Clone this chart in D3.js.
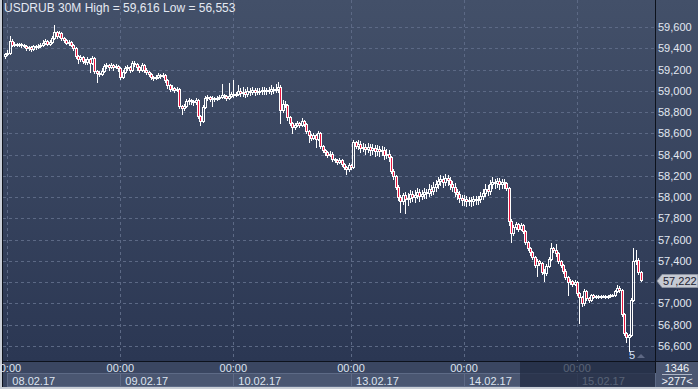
<!DOCTYPE html>
<html lang="en">
<head>
<meta charset="UTF-8">
<title>USDRUB 30M</title>
<style>
  html, body { margin: 0; padding: 0; background: #c9ced6; }
  svg { display: block; font-family: "Liberation Sans", Arial, sans-serif; }
</style>
<script src="https://cdn.jsdelivr.net/npm/d3@7"></script>
</head>
<body>
<script>
// ---- data (30 min bars, bar index 0..270) ----
var open = [59.33,59.35,59.36,59.47,59.43,59.44,59.43,59.44,59.43,59.42,
  59.40,59.41,59.39,59.42,59.41,59.42,59.43,59.45,59.47,59.44,
  59.46,59.50,59.55,59.52,59.54,59.50,59.48,59.45,59.46,59.43,
  59.40,59.33,59.30,59.32,59.28,59.27,59.30,59.26,59.31,59.19,
  59.17,59.16,59.19,59.23,59.24,59.22,59.24,59.22,59.23,59.21,
  59.13,59.18,59.21,59.22,59.20,59.26,59.25,59.22,59.20,59.24,
  59.20,59.18,59.16,59.13,59.12,59.13,59.15,59.14,59.15,59.10,
  59.05,59.02,59.03,59.01,59.02,58.86,58.84,58.86,58.90,58.91,
  58.90,58.89,58.91,58.76,58.72,58.85,58.93,58.94,58.92,58.93,
  58.92,58.93,58.94,58.96,58.95,58.93,58.95,58.97,58.96,58.97,
  59.00,58.98,58.99,58.97,59.00,58.99,59.01,58.99,59.00,59.00,
  59.01,59.00,59.01,59.00,59.02,59.01,59.02,59.04,58.82,58.88,
  58.87,58.75,58.70,58.66,58.68,58.70,58.68,58.72,58.69,58.62,
  58.58,58.56,58.58,58.55,58.60,58.48,58.44,58.42,58.40,58.41,
  58.36,58.35,58.33,58.35,58.31,58.28,58.26,58.30,58.28,58.52,
  58.48,58.50,58.46,58.47,58.45,58.47,58.44,58.46,58.43,58.45,
  58.43,58.44,58.40,58.41,58.38,58.25,58.20,58.10,58.00,57.96,
  58.02,57.98,57.99,58.03,58.00,58.02,58.05,58.01,58.03,58.05,
  58.04,58.08,58.06,58.10,58.12,58.15,58.17,58.14,58.18,58.16,
  58.12,58.10,58.05,58.03,57.99,57.97,57.98,57.96,57.97,57.96,
  57.98,57.97,57.98,58.01,58.04,58.08,58.06,58.12,58.14,58.13,
  58.15,58.12,58.14,58.13,58.09,57.78,57.66,57.72,57.75,57.70,
  57.74,57.68,57.58,57.52,57.48,57.44,57.36,57.40,57.38,57.30,
  57.29,57.35,57.42,57.52,57.50,57.47,57.40,57.36,57.31,57.25,
  57.20,57.21,57.18,57.20,57.10,57.06,57.00,57.12,57.05,57.03,
  57.08,57.06,57.07,57.06,57.07,57.07,57.06,57.07,57.08,57.08,
  57.12,57.15,57.13,56.90,56.72,56.68,56.70,57.03,57.40,57.41,
  57.30];
var close = [59.35,59.36,59.47,59.43,59.44,59.43,59.44,59.43,59.42,59.40,
  59.41,59.39,59.42,59.41,59.42,59.43,59.45,59.47,59.44,59.46,
  59.50,59.55,59.52,59.54,59.50,59.48,59.45,59.46,59.43,59.40,
  59.33,59.30,59.32,59.28,59.27,59.30,59.26,59.31,59.19,59.17,
  59.16,59.19,59.23,59.24,59.22,59.24,59.22,59.23,59.21,59.13,
  59.18,59.21,59.22,59.20,59.26,59.25,59.22,59.20,59.24,59.20,
  59.18,59.16,59.13,59.12,59.13,59.15,59.14,59.15,59.10,59.05,
  59.02,59.03,59.01,59.02,58.86,58.84,58.86,58.90,58.91,58.90,
  58.89,58.91,58.76,58.72,58.85,58.93,58.94,58.92,58.93,58.92,
  58.93,58.94,58.96,58.95,58.93,58.95,58.97,58.96,58.97,59.00,
  58.98,58.99,58.97,59.00,58.99,59.01,58.99,59.00,59.00,59.01,
  59.00,59.01,59.00,59.02,59.01,59.02,59.04,58.82,58.88,58.87,
  58.75,58.70,58.66,58.68,58.70,58.68,58.72,58.69,58.62,58.58,
  58.56,58.58,58.55,58.60,58.48,58.44,58.42,58.40,58.41,58.36,
  58.35,58.33,58.35,58.31,58.28,58.26,58.30,58.28,58.52,58.48,
  58.50,58.46,58.47,58.45,58.47,58.44,58.46,58.43,58.45,58.43,
  58.44,58.40,58.41,58.38,58.25,58.20,58.10,58.00,57.96,58.02,
  57.98,57.99,58.03,58.00,58.02,58.05,58.01,58.03,58.05,58.04,
  58.08,58.06,58.10,58.12,58.15,58.17,58.14,58.18,58.16,58.12,
  58.10,58.05,58.03,57.99,57.97,57.98,57.96,57.97,57.96,57.98,
  57.97,57.98,58.01,58.04,58.08,58.06,58.12,58.14,58.13,58.15,
  58.12,58.14,58.13,58.09,57.78,57.66,57.72,57.75,57.70,57.74,
  57.68,57.58,57.52,57.48,57.44,57.36,57.40,57.38,57.30,57.29,
  57.35,57.42,57.52,57.50,57.47,57.40,57.36,57.31,57.25,57.20,
  57.21,57.18,57.20,57.10,57.06,57.00,57.12,57.05,57.03,57.08,
  57.06,57.07,57.06,57.07,57.07,57.06,57.07,57.08,57.08,57.12,
  57.15,57.13,56.90,56.72,56.68,56.70,57.03,57.40,57.41,57.30,
  57.222];
var high = [59.36,59.38,59.52,59.49,59.46,59.45,59.45,59.45,59.44,59.43,
  59.42,59.42,59.43,59.43,59.44,59.45,59.48,59.49,59.48,59.48,
  59.52,59.616,59.56,59.56,59.55,59.51,59.49,59.48,59.47,59.44,
  59.41,59.34,59.34,59.33,59.30,59.32,59.31,59.33,59.32,59.20,
  59.19,59.21,59.25,59.26,59.25,59.26,59.25,59.25,59.24,59.22,
  59.20,59.23,59.24,59.23,59.28,59.28,59.26,59.23,59.26,59.25,
  59.21,59.19,59.17,59.14,59.15,59.17,59.16,59.17,59.16,59.11,
  59.06,59.05,59.04,59.04,59.03,58.87,58.88,58.92,58.93,58.92,
  58.91,58.93,58.92,58.77,58.87,58.95,58.96,58.95,58.95,58.94,
  58.95,58.96,59.06,58.97,58.96,59.07,58.99,59.10,58.99,59.05,
  59.03,59.04,59.02,59.04,59.03,59.04,59.03,59.03,59.03,59.04,
  59.04,59.03,59.04,59.05,59.04,59.06,59.08,59.05,58.91,58.90,
  58.88,58.76,58.71,58.70,58.72,58.71,58.74,58.73,58.70,58.63,
  58.59,58.60,58.59,58.62,58.61,58.49,58.45,58.43,58.43,58.42,
  58.37,58.36,58.37,58.36,58.32,58.29,58.32,58.31,58.54,58.53,
  58.54,58.53,58.51,58.50,58.51,58.50,58.50,58.49,58.49,58.48,
  58.48,58.47,58.45,58.44,58.39,58.26,58.21,58.11,58.02,58.04,
  58.05,58.04,58.07,58.06,58.07,58.09,58.08,58.07,58.09,58.08,
  58.12,58.11,58.14,58.16,58.19,58.21,58.20,58.22,58.21,58.19,
  58.15,58.13,58.08,58.06,58.02,58.02,58.01,58.00,58.00,58.01,
  58.01,58.01,58.05,58.08,58.12,58.11,58.16,58.19,58.17,58.18,
  58.18,58.17,58.17,58.14,58.10,57.79,57.74,57.77,57.76,57.76,
  57.75,57.69,57.59,57.53,57.49,57.45,57.42,57.41,57.39,57.32,
  57.37,57.44,57.57,57.53,57.56,57.48,57.41,57.37,57.32,57.26,
  57.23,57.22,57.22,57.21,57.11,57.07,57.14,57.13,57.06,57.09,
  57.09,57.08,57.08,57.08,57.08,57.08,57.08,57.09,57.09,57.13,
  57.17,57.16,57.14,56.91,56.73,56.71,57.05,57.52,57.50,57.43,
  57.31];
var low = [59.31,59.34,59.35,59.42,59.42,59.42,59.42,59.41,59.41,59.38,
  59.38,59.37,59.38,59.39,59.40,59.41,59.42,59.44,59.43,59.43,
  59.45,59.49,59.50,59.51,59.48,59.46,59.44,59.43,59.42,59.38,
  59.31,59.26,59.28,59.26,59.25,59.25,59.18,59.25,59.17,59.08,
  59.14,59.15,59.18,59.21,59.20,59.21,59.20,59.21,59.19,59.11,
  59.12,59.17,59.20,59.18,59.19,59.23,59.20,59.18,59.19,59.18,
  59.16,59.14,59.11,59.10,59.11,59.12,59.12,59.13,59.08,59.03,
  59.00,59.01,58.99,59.00,58.84,58.78,58.82,58.85,58.88,58.88,
  58.87,58.88,58.74,58.68,58.71,58.84,58.91,58.90,58.86,58.90,
  58.91,58.92,58.93,58.93,58.91,58.92,58.94,58.94,58.95,58.96,
  58.95,58.95,58.94,58.95,58.96,58.97,58.96,58.97,58.97,58.97,
  58.97,58.97,58.98,58.97,58.98,58.99,58.99,58.70,58.80,58.85,
  58.73,58.68,58.60,58.64,58.67,58.66,58.67,58.67,58.60,58.52,
  58.54,58.55,58.47,58.54,58.46,58.42,58.40,58.38,58.39,58.34,
  58.33,58.31,58.32,58.29,58.26,58.22,58.25,58.26,58.27,58.46,
  58.45,58.42,58.43,58.41,58.42,58.40,58.41,58.39,58.40,58.39,
  58.40,58.36,58.37,58.34,58.23,58.17,58.08,57.97,57.86,57.94,
  57.85,57.93,57.95,57.96,57.95,57.99,57.96,57.98,57.99,57.99,
  58.01,58.02,58.03,58.06,58.09,58.11,58.10,58.11,58.11,58.08,
  58.06,58.01,57.98,57.95,57.93,57.93,57.92,57.93,57.92,57.93,
  57.94,57.94,57.95,57.98,58.01,58.02,58.03,58.09,58.09,58.10,
  58.08,58.09,58.09,58.07,57.74,57.58,57.64,57.70,57.68,57.69,
  57.66,57.56,57.50,57.46,57.42,57.34,57.26,57.36,57.28,57.21,
  57.27,57.34,57.41,57.48,57.45,57.38,57.34,57.29,57.23,57.08,
  57.18,57.16,57.17,57.08,56.82,56.98,56.99,57.03,57.01,57.02,
  57.05,57.05,57.05,57.05,57.06,57.05,57.05,57.06,57.07,57.07,
  57.11,57.11,56.88,56.70,56.64,56.553,56.69,57.02,57.37,57.28,
  57.21];

var timeTicks = [1, 49, 97, 147, 195, 243];           // bar index of 00:00 each day
var timeLabels = ["00:00","00:00","00:00","00:00","00:00","00:00"];
var dateLabels = ["08.02.17","09.02.17","10.02.17","13.02.17","14.02.17","15.02.17"];
var priceTicks = [56.6,56.8,57.0,57.2,57.4,57.6,57.8,58.0,58.2,58.4,58.6,58.8,59.0,59.2,59.4,59.6];
var lastPrice = 57.222;

// ---- layout ----
var W = 698, H = 389;
var plot = {left: 3, right: 655, top: 0, bottom: 361};

var svg = d3.select('body').append('svg')
  .attr('width', W).attr('height', H);

var defs = svg.append('defs');
var grad = defs.append('linearGradient').attr('id', 'bg')
  .attr('x1', 0).attr('y1', 0).attr('x2', 0).attr('y2', 1);
grad.append('stop').attr('offset', '0%').attr('stop-color', '#435069');
grad.append('stop').attr('offset', '100%').attr('stop-color', '#2b3753');

// outer light frame
svg.append('rect').attr('width', W).attr('height', H).attr('fill', '#c9ced6');
// chart background (plot + right axis)
svg.append('rect').attr('x', 2).attr('y', 0).attr('width', W - 2).attr('height', plot.bottom)
  .attr('fill', 'url(#bg)');
// bottom axis area
svg.append('rect').attr('x', 2).attr('y', plot.bottom).attr('width', W - 2).attr('height', H - 2 - plot.bottom)
  .attr('fill', '#3a4661');

var x = d3.scaleLinear().domain([1, 243]).range([7.35, 577]);
var y = d3.scaleLinear().domain([56.6, 59.6]).range([346, 27]);

// grid
var grid = svg.append('g').attr('stroke', '#5c6985').attr('stroke-dasharray', '3,3').attr('stroke-width', 1);
grid.selectAll('line.h').data(priceTicks).enter().append('line')
  .attr('x1', plot.left).attr('x2', plot.right)
  .attr('y1', function(d) { return Math.round(y(d)) + 0.5; })
  .attr('y2', function(d) { return Math.round(y(d)) + 0.5; });
grid.selectAll('line.v').data(timeTicks).enter().append('line')
  .attr('y1', plot.top).attr('y2', plot.bottom)
  .attr('x1', function(d) { return Math.round(x(d)) + 0.5; })
  .attr('x2', function(d) { return Math.round(x(d)) + 0.5; });

// candles
var bars = d3.range(close.length).map(function(i) {
  return {i: i, o: open[i], h: high[i], l: low[i], c: close[i]};
});
var cg = svg.append('g').attr('shape-rendering', 'crispEdges');
bars.forEach(function(b) {
  var cx = Math.round(x(b.i));
  var top = Math.round(y(Math.max(b.o, b.c)));
  var bot = Math.round(y(Math.min(b.o, b.c)));
  if (bot - top < 1) bot = top + 1;
  var up = b.c >= b.o;
  cg.append('line').attr('x1', cx + 0.5).attr('x2', cx + 0.5)
    .attr('y1', Math.round(y(b.h))).attr('y2', top)
    .attr('stroke', '#fff');
  cg.append('line').attr('x1', cx + 0.5).attr('x2', cx + 0.5)
    .attr('y1', bot).attr('y2', Math.round(y(b.l)) + 1)
    .attr('stroke', '#fff');
  cg.append('rect')
    .attr('x', cx - 0.5).attr('y', top + 0.5)
    .attr('width', 2).attr('height', bot - top)
    .attr('fill', up ? 'none' : '#e8163f')
    .attr('stroke', '#fff').attr('stroke-width', 1);
});

// borders
svg.append('rect').attr('x', 2).attr('y', 0).attr('width', 1).attr('height', H - 2).attr('fill', '#0d121c');
svg.append('rect').attr('x', plot.right).attr('y', 0).attr('width', 1).attr('height', H - 2).attr('fill', '#0d121c');
svg.append('rect').attr('x', 2).attr('y', plot.bottom).attr('width', W - 2).attr('height', 1).attr('fill', '#0d121c');

// right price axis (the tick under the last-price label is hidden by it)
var yAxis = d3.axisRight(y)
  .tickValues(priceTicks.filter(function(d) { return Math.abs(y(d) - y(lastPrice)) > 8; }))
  .tickSize(0).tickPadding(3)
  .tickFormat(function(d) { return d.toFixed(3).replace('.', ','); });
var ya = svg.append('g').attr('transform', 'translate(' + plot.right + ',0)').call(yAxis);
ya.select('.domain').remove();
ya.selectAll('text').attr('fill', '#e3e8f1').attr('font-size', '11px')
  .attr('font-family', '"Liberation Sans", Arial, sans-serif');

// bottom time axis
var bx = svg.append('g');
bx.selectAll('rect.day').data(timeTicks).enter().append('rect')
  .attr('x', function(d) { return Math.round(x(d)) + 0.5; })
  .attr('y', 373.5)
  .attr('width', function(d, i) {
    var nx = i < timeTicks.length - 1 ? Math.round(x(timeTicks[i + 1])) : plot.right;
    return nx - Math.round(x(d));
  })
  .attr('height', 13)
  .attr('fill', '#4a5671').attr('stroke', '#5d6a86');
bx.selectAll('text.time').data(timeTicks).enter().append('text')
  .attr('x', function(d) { return x(d); })
  .attr('y', 372)
  .attr('text-anchor', 'middle')
  .attr('font-size', '11px').attr('fill', '#dde4f0')
  .text(function(d, i) { return timeLabels[i]; });
bx.selectAll('text.date').data(timeTicks).enter().append('text')
  .attr('x', function(d) { return x(d) + 5; })
  .attr('y', 385)
  .attr('font-size', '11px').attr('fill', '#dde4f0')
  .text(function(d, i) { return dateLabels[i]; });
// dimmed tail of the time axis
bx.append('rect').attr('x', 520).attr('y', plot.bottom + 1).attr('width', plot.right - 520).attr('height', H - 3 - plot.bottom)
  .attr('fill', '#1f2940').attr('opacity', 0.7);

// bottom-right corner box
svg.append('rect').attr('x', plot.right + 1).attr('y', plot.bottom + 1).attr('width', W - plot.right - 1).attr('height', H - 3 - plot.bottom)
  .attr('fill', '#4a5671');
svg.append('text').attr('x', 677).attr('y', 372).attr('text-anchor', 'middle')
  .attr('font-size', '11px').attr('fill', '#eef2f8').text('1346');
svg.append('line').attr('x1', 662).attr('x2', 692).attr('y1', 374.5).attr('y2', 374.5)
  .attr('stroke', '#aeb6c6');
svg.append('text').attr('x', 677).attr('y', 385).attr('text-anchor', 'middle')
  .attr('font-size', '11px').attr('fill', '#eef2f8').text('>277<');

// last price label
var ly = Math.round(y(lastPrice)) + 1;
svg.append('path')
  .attr('d', 'M657,' + ly + ' L662,' + (ly - 6.5) + ' L698,' + (ly - 6.5) + ' L698,' + (ly + 6.5) + ' L662,' + (ly + 6.5) + ' Z')
  .attr('fill', '#c6cad3').attr('stroke', '#8e95a3');
svg.append('text').attr('x', 663).attr('y', ly + 4).attr('font-size', '11px').attr('fill', '#1c2232')
  .text(lastPrice.toFixed(3).replace('.', ','));

// low marker
svg.append('text').attr('x', 629).attr('y', 359).attr('font-size', '11px').attr('fill', '#d6e2fa').text('5');
svg.append('path').attr('d', 'M637,358 L641,354 L645,358 Z').attr('fill', '#5e6884');

// title
svg.append('text').attr('x', 4).attr('y', 12)
  .attr('font-size', '12px').attr('fill', '#e4e9f2')
  .text('USDRUB 30M  High = 59,616 Low = 56,553');
</script>
</body>
</html>
